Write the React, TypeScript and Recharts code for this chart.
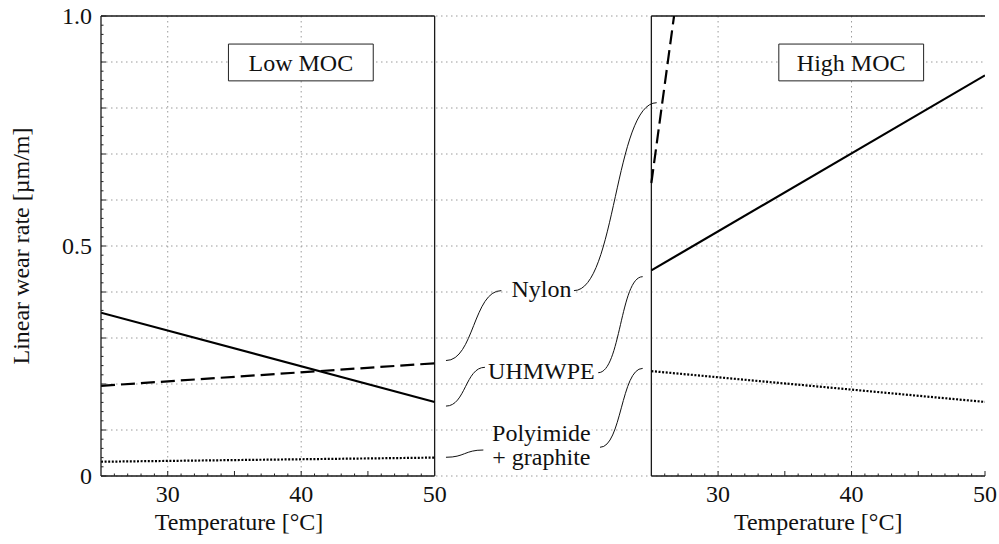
import {
  CartesianGrid,
  Line,
  LineChart,
  ReferenceArea,
  ReferenceDot,
  ReferenceLine,
  XAxis,
  YAxis
} from 'recharts';

const FONT = "'Liberation Serif', 'Times New Roman', serif";
const FS = 24;
const TXT = { fontFamily: FONT, fontSize: FS };

// temperatures (°C) at the ends of each fitted line
const PANEL_TEMPS = [25, 50];
const HIGH_NYLON_TEMPS = [25, 26.7];

// Low MOC panel, linear wear rate [µm/m]
const LOW_NYLON = [0.196, 0.245];
const LOW_UHMWPE = [0.355, 0.161];
const LOW_POLYIMIDE = [0.031, 0.04];

// High MOC panel
const HIGH_NYLON = [0.637, 1.0];
const HIGH_UHMWPE = [0.447, 0.871];
const HIGH_POLYIMIDE = [0.228, 0.161];

const X_LABEL_TICKS = [30, 40, 50];
const Y_LABEL_TICKS = [0, 0.5, 1];
const GRID_Y = [0, 0.1, 0.2, 0.3, 0.4, 0.5, 0.6, 0.7, 0.8, 0.9, 1];

// the High MOC panel sits on the same axis, shifted right by this many °C
const PANEL_OFFSET = 41.24;
const X_MIN = 25;
const X_MAX = 50 + PANEL_OFFSET;

const MINOR_X = Array.from({ length: 25 }, (_, i) => 26 + i);
const ALL_X_TICKS = [...MINOR_X, ...MINOR_X.map((t) => t + PANEL_OFFSET)];
const MINOR_Y = Array.from({ length: 51 }, (_, i) => (i * 2) / 100);
const GRID_X = [30, 40, 30 + PANEL_OFFSET, 40 + PANEL_OFFSET];

const GAP_CENTER = 58;

// connectors between the middle labels and the line ends: [x1, y1, x2, y2]
const CONNECTORS = [
  [50.85, 0.251, 55.0, 0.403],
  [60.44, 0.403, 66.64, 0.8115],
  [50.85, 0.152, 53.77, 0.2363],
  [62.26, 0.2246, 65.59, 0.4333],
  [50.85, 0.0407, 53.65, 0.0565],
  [62.39, 0.0624, 65.59, 0.234]
];

const MIDDLE_LABELS = [
  { text: 'Nylon', y: 0.39 },
  { text: 'UHMWPE', y: 0.2104 },
  { text: 'Polyimide', y: 0.0768 },
  { text: '+ graphite', y: 0.025 }
];

const BOX_T = [34.55, 45.4];
const BOX_V = [0.859, 0.939];

const toPoints = (temps: number[], vals: number[], shift: number) =>
  temps.map((t, i) => ({ t: t + shift, v: vals[i] }));

const SERIES = [
  { key: 'low-uhmwpe', data: toPoints(PANEL_TEMPS, LOW_UHMWPE, 0), dash: undefined },
  { key: 'low-nylon', data: toPoints(PANEL_TEMPS, LOW_NYLON, 0), dash: '14 6' },
  { key: 'low-poly', data: toPoints(PANEL_TEMPS, LOW_POLYIMIDE, 0), dash: '2 1.6' },
  { key: 'high-uhmwpe', data: toPoints(PANEL_TEMPS, HIGH_UHMWPE, PANEL_OFFSET), dash: undefined },
  { key: 'high-nylon', data: toPoints(HIGH_NYLON_TEMPS, HIGH_NYLON, PANEL_OFFSET), dash: '14 6' },
  { key: 'high-poly', data: toPoints(PANEL_TEMPS, HIGH_POLYIMIDE, PANEL_OFFSET), dash: '2 1.6' }
];

const rawTemp = (v: number) => Math.round((v > 50.5 ? v - PANEL_OFFSET : v) * 100) / 100;

const BottomTick = (props: any) => {
  const { x, y, payload } = props;
  const t = rawTemp(payload.value);
  const len = t % 5 === 0 ? 5 : 2.5;
  return (
    <g>
      <line x1={x} y1={y} x2={x} y2={y - len} stroke="#222" />
      {X_LABEL_TICKS.includes(t) && (
        <text x={x} y={y + 26} textAnchor="middle" style={TXT} fill="#111">
          {t}
        </text>
      )}
    </g>
  );
};

const TopTick = (props: any) => {
  const { x, y, payload } = props;
  const t = rawTemp(payload.value);
  const len = t % 5 === 0 ? 5 : 2.5;
  return <line x1={x} y1={y} x2={x} y2={y + len} stroke="#222" />;
};

const isMajorY = (v: number) => Math.abs(v * 10 - Math.round(v * 10)) < 1e-6;

const LeftTick = (props: any) => {
  const { x, y, payload } = props;
  const v = payload.value;
  const len = isMajorY(v) ? 5 : 2.5;
  const labelled = Y_LABEL_TICKS.some((l) => Math.abs(l - v) < 1e-6);
  return (
    <g>
      <line x1={x} y1={y} x2={x + len} y2={y} stroke="#222" />
      {labelled && (
        <text x={x - 9} y={y} textAnchor="end" dominantBaseline="central" style={TXT} fill="#111">
          {v === 0 ? '0' : v.toFixed(1)}
        </text>
      )}
    </g>
  );
};

const RightTick = (props: any) => {
  const { x, y, payload } = props;
  const len = isMajorY(payload.value) ? 5 : 2.5;
  return <line x1={x} y1={y} x2={x - len} y2={y} stroke="#222" />;
};

const sCurve = (p: any) => {
  const { x1, y1, x2, y2 } = p;
  const k = (x2 - x1) * 0.5;
  return (
    <path
      d={`M${x1},${y1} C${x1 + k},${y1} ${x2 - k},${y2} ${x2},${y2}`}
      fill="none"
      stroke="#111"
      strokeWidth={1}
    />
  );
};

const middleLabel = (text: string) => (p: any) => (
  <text
    x={p.cx}
    y={p.cy}
    textAnchor="middle"
    style={TXT}
    fill="#111"
    stroke="#fff"
    strokeWidth={6}
    paintOrder="stroke"
  >
    {text}
  </text>
);

const xAxisLabels = (props: any) => {
  const vb = props.viewBox;
  const px = (t: number) => vb.x + ((t - X_MIN) / (X_MAX - X_MIN)) * vb.width;
  return (
    <g>
      <text x={px(35.35)} y={vb.y + 54} textAnchor="middle" style={TXT} fill="#111">
        Temperature [°C]
      </text>
      <text x={px(37.5 + PANEL_OFFSET)} y={vb.y + 54} textAnchor="middle" style={TXT} fill="#111">
        Temperature [°C]
      </text>
    </g>
  );
};

const yAxisLabel = (props: any) => {
  const vb = props.viewBox;
  const cx = vb.x + 28.5;
  const cy = vb.y + vb.height / 2;
  return (
    <text
      x={cx}
      y={cy}
      transform={`rotate(-90 ${cx} ${cy})`}
      textAnchor="middle"
      style={TXT}
      fill="#111"
    >
      Linear wear rate [µm/m]
    </text>
  );
};

const FRAME = '#1a1a1a';

export default function App() {
  return (
    <div style={{ position: 'absolute', left: 0, top: 0, width: 999, height: 544, background: '#fff', fontFamily: FONT }}>
      <LineChart width={999} height={544} margin={{ top: 16, right: 14, bottom: 0, left: 0 }}>
        <CartesianGrid
          stroke="#9a9a9a"
          strokeDasharray="1.5 3.5"
          horizontalValues={GRID_Y}
          verticalValues={GRID_X}
        />
        <XAxis
          dataKey="t"
          type="number"
          domain={[X_MIN, X_MAX]}
          allowDataOverflow
          ticks={ALL_X_TICKS}
          interval={0}
          height={68}
          tickSize={0}
          tickMargin={0}
          axisLine={false}
          tickLine={false}
          tick={BottomTick}
          label={xAxisLabels}
        />
        <XAxis
          xAxisId="top"
          orientation="top"
          dataKey="t"
          type="number"
          domain={[X_MIN, X_MAX]}
          allowDataOverflow
          ticks={ALL_X_TICKS}
          interval={0}
          height={0}
          tickSize={0}
          tickMargin={0}
          axisLine={false}
          tickLine={false}
          tick={TopTick}
        />
        <YAxis
          type="number"
          domain={[0, 1]}
          allowDataOverflow
          ticks={MINOR_Y}
          interval={0}
          width={101}
          tickSize={0}
          tickMargin={0}
          axisLine={{ stroke: FRAME, strokeWidth: 1.3 }}
          tickLine={false}
          tick={LeftTick}
          label={yAxisLabel}
        />
        <YAxis
          yAxisId="right"
          orientation="right"
          type="number"
          domain={[0, 1]}
          ticks={MINOR_Y}
          interval={0}
          width={0}
          tickSize={0}
          tickMargin={0}
          axisLine={{ stroke: FRAME, strokeWidth: 1.3 }}
          tickLine={false}
          tick={RightTick}
        />

        <ReferenceLine segment={[{ x: 25, y: 1 }, { x: 50, y: 1 }]} stroke={FRAME} strokeWidth={1.3} />
        <ReferenceLine segment={[{ x: 25, y: 0 }, { x: 50, y: 0 }]} stroke={FRAME} strokeWidth={1.3} />
        <ReferenceLine x={50} stroke={FRAME} strokeWidth={1.3} />
        <ReferenceLine x={25 + PANEL_OFFSET} stroke={FRAME} strokeWidth={1.3} />
        <ReferenceLine
          segment={[{ x: 25 + PANEL_OFFSET, y: 1 }, { x: X_MAX, y: 1 }]}
          stroke={FRAME}
          strokeWidth={1.3}
        />
        <ReferenceLine
          segment={[{ x: 25 + PANEL_OFFSET, y: 0 }, { x: X_MAX, y: 0 }]}
          stroke={FRAME}
          strokeWidth={1.3}
        />

        <ReferenceArea
          x1={BOX_T[0]}
          x2={BOX_T[1]}
          y1={BOX_V[0]}
          y2={BOX_V[1]}
          fill="#fff"
          fillOpacity={1}
          stroke="#222"
          strokeWidth={1}
          label={{ value: 'Low MOC', position: 'center', style: TXT, fill: '#111' }}
        />
        <ReferenceArea
          x1={BOX_T[0] + PANEL_OFFSET}
          x2={BOX_T[1] + PANEL_OFFSET}
          y1={BOX_V[0]}
          y2={BOX_V[1]}
          fill="#fff"
          fillOpacity={1}
          stroke="#222"
          strokeWidth={1}
          label={{ value: 'High MOC', position: 'center', style: TXT, fill: '#111' }}
        />

        {SERIES.map((s) => (
          <Line
            key={s.key}
            data={s.data}
            dataKey="v"
            type="linear"
            stroke="#000"
            strokeWidth={2.2}
            strokeDasharray={s.dash}
            dot={false}
            activeDot={false}
            isAnimationActive={false}
          />
        ))}

        {CONNECTORS.map((c, i) => (
          <ReferenceLine
            key={`c${i}`}
            segment={[{ x: c[0], y: c[1] }, { x: c[2], y: c[3] }]}
            ifOverflow="visible"
            shape={sCurve}
          />
        ))}

        {MIDDLE_LABELS.map((l) => (
          <ReferenceDot
            key={l.text}
            x={GAP_CENTER}
            y={l.y}
            r={0}
            ifOverflow="visible"
            shape={middleLabel(l.text)}
          />
        ))}
      </LineChart>
    </div>
  );
}
